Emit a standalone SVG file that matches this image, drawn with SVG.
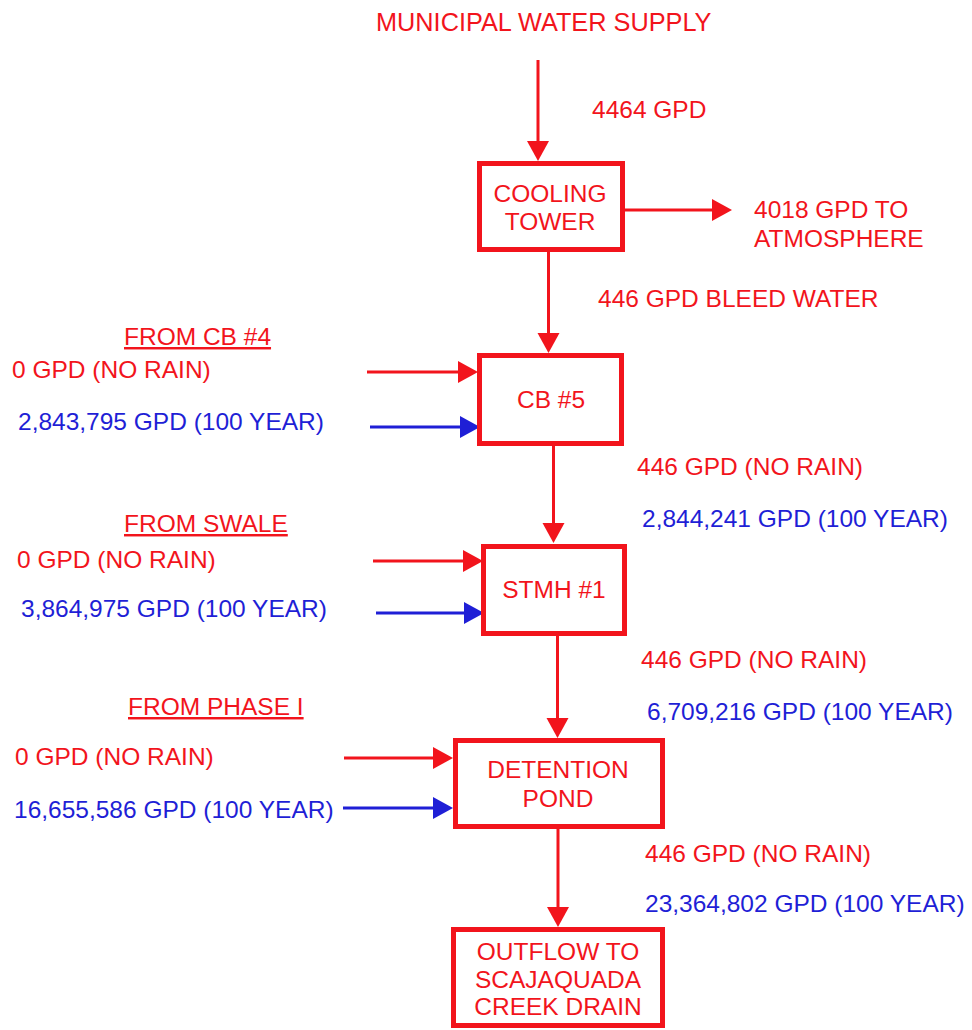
<svg xmlns="http://www.w3.org/2000/svg" width="972" height="1030" viewBox="0 0 972 1030">
<style>
text{font-family:"Liberation Sans",Arial,Helvetica,sans-serif;font-size:24.5px}
.r{fill:#f2141c}
.b{fill:#1f1fd6}
.u{text-decoration:underline}
.box{fill:#fff;stroke:#f2141c;stroke-width:5}
.c{text-anchor:middle}
.lr{stroke:#f2141c;stroke-width:3;fill:none;marker-end:url(#ar)}
.lb{stroke:#1f1fd6;stroke-width:3;fill:none;marker-end:url(#ab)}
</style>
<defs>
<marker id="ar" markerUnits="userSpaceOnUse" markerWidth="22" markerHeight="24" refX="12" refY="11" orient="auto" viewBox="0 0 22 22">
<path d="M0,0 L20,11 L0,22 z" fill="#f2141c"/>
</marker>
<marker id="ab" markerUnits="userSpaceOnUse" markerWidth="22" markerHeight="24" refX="12" refY="11" orient="auto" viewBox="0 0 22 22">
<path d="M0,0 L20,11 L0,22 z" fill="#1f1fd6"/>
</marker>
</defs>
<rect width="972" height="1030" fill="#fff"/>

<g id="connectors">
<line class="lr" x1="538" y1="60" x2="538" y2="153"/>
<line class="lr" x1="625" y1="210" x2="724" y2="210"/>
<line class="lr" x1="548.5" y1="252" x2="548.5" y2="345"/>
<line class="lr" x1="367" y1="372" x2="470" y2="372"/>
<line class="lb" x1="370" y1="427" x2="472" y2="427"/>
<line class="lr" x1="553.5" y1="446" x2="553.5" y2="535"/>
<line class="lr" x1="373" y1="561" x2="475" y2="561"/>
<line class="lb" x1="376" y1="613" x2="476" y2="613"/>
<line class="lr" x1="557.5" y1="636" x2="557.5" y2="730"/>
<line class="lr" x1="344" y1="758" x2="445" y2="758"/>
<line class="lb" x1="343" y1="808" x2="445" y2="808"/>
<line class="lr" x1="558" y1="829" x2="558" y2="919"/>
</g>

<g id="source">
<text class="r" x="376" y="31" style="font-size:25.3px">MUNICIPAL WATER SUPPLY</text>
</g>

<g id="cooling-tower">
<rect class="box" x="479.5" y="163.5" width="143" height="86"/>
<text class="r c" x="550" y="202">COOLING</text>
<text class="r c" x="550" y="230">TOWER</text>
</g>

<g id="atmosphere">
<text class="r" x="754" y="218">4018 GPD TO</text>
<text class="r" x="754" y="247">ATMOSPHERE</text>
</g>

<g id="cb5">
<rect class="box" x="479.5" y="355.5" width="142" height="88"/>
<text class="r c" x="551" y="408">CB #5</text>
</g>

<g id="stmh1">
<rect class="box" x="483.5" y="546.5" width="141" height="87"/>
<text class="r c" x="554" y="598">STMH #1</text>
</g>

<g id="detention-pond">
<rect class="box" x="455.5" y="740.5" width="207" height="86"/>
<text class="r c" x="558" y="778">DETENTION</text>
<text class="r c" x="558" y="807">POND</text>
</g>

<g id="outflow">
<rect class="box" x="453.5" y="929.5" width="209" height="96"/>
<text class="r c" x="558" y="960">OUTFLOW TO</text>
<text class="r c" x="558" y="988">SCAJAQUADA</text>
<text class="r c" x="558" y="1015">CREEK DRAIN</text>
</g>

<g id="from-cb4">
<text class="r u" x="124" y="345">FROM CB #4</text>
<text class="r" x="12" y="378">0 GPD (NO RAIN)</text>
<text class="b" x="18" y="430">2,843,795 GPD (100 YEAR)</text>
</g>

<g id="from-swale">
<text class="r u" x="124" y="532">FROM SWALE</text>
<text class="r" x="17" y="568">0 GPD (NO RAIN)</text>
<text class="b" x="21" y="617">3,864,975 GPD (100 YEAR)</text>
</g>

<g id="from-phase1">
<text class="r u" x="128" y="715">FROM PHASE I</text>
<text class="r" x="15" y="765">0 GPD (NO RAIN)</text>
<text class="b" x="14" y="818">16,655,586 GPD (100 YEAR)</text>
</g>

<g id="flow-labels">
<text class="r" x="592" y="118">4464 GPD</text>
<text class="r" x="598" y="307">446 GPD BLEED WATER</text>
<text class="r" x="637" y="475">446 GPD (NO RAIN)</text>
<text class="b" x="642" y="527">2,844,241 GPD (100 YEAR)</text>
<text class="r" x="641" y="668">446 GPD (NO RAIN)</text>
<text class="b" x="647" y="720">6,709,216 GPD (100 YEAR)</text>
<text class="r" x="645" y="862">446 GPD (NO RAIN)</text>
<text class="b" x="645" y="912">23,364,802 GPD (100 YEAR)</text>
</g>
</svg>
